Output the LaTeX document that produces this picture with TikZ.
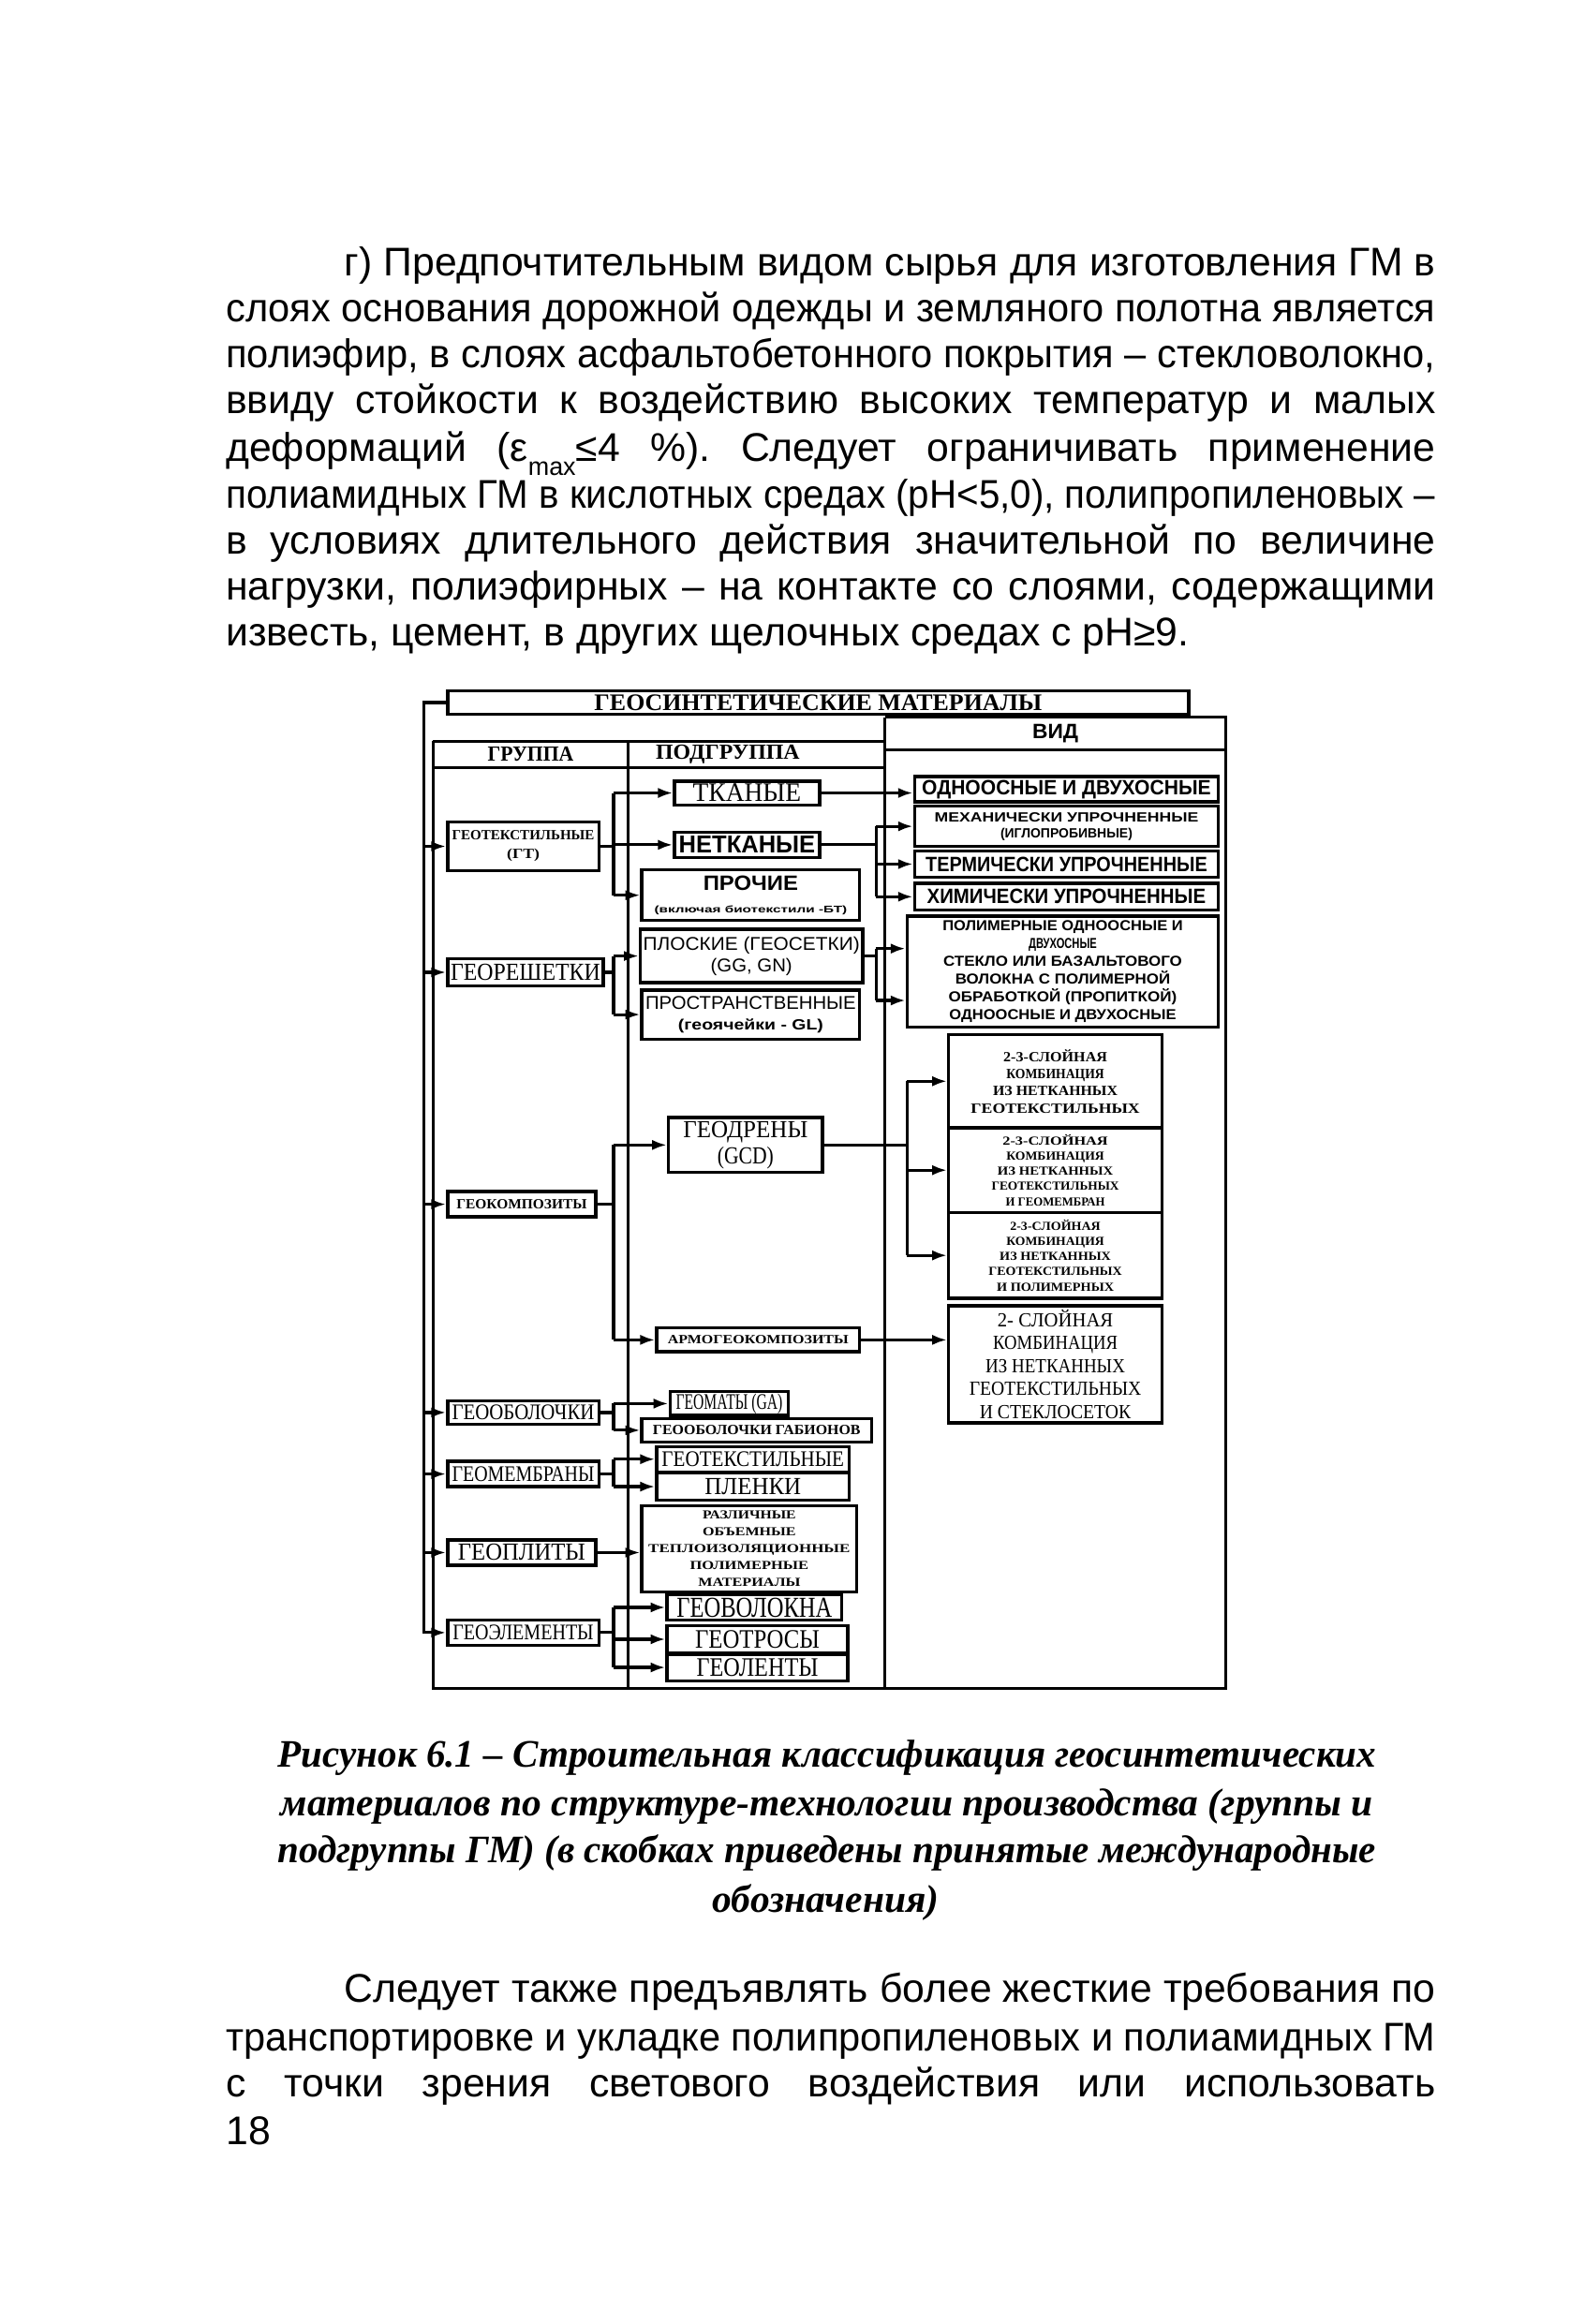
\documentclass[tikz,border=0pt]{standalone}
\usepackage{fontspec}
\usepackage{graphicx}
\setmainfont{Liberation Sans}
\newfontfamily\ser{Liberation Serif}
\newfontfamily\sns{Liberation Sans}
\usetikzlibrary{arrows.meta}
\newlength\pxu \setlength\pxu{0.4pt}
\newlength\jw
\newcommand\fw[2]{\resizebox{#1\pxu}{\height}{#2}}
\newcommand\Fs[2]{\fontsize{#1pt}{#2pt}\selectfont}
\newcommand\jline[2]{\frenchspacing\setlength\jw{#1\pxu}\setbox0=\hbox{#2}\ifdim\wd0>\jw\resizebox{\jw}{\height}{#2}\else\hbox to\jw{\spaceskip=0.28em plus 4em\relax#2}\fi}
\tikzset{
 bx/.style 2 args={draw, line width=0.85pt, inner sep=0pt, align=center, minimum width=#1*0.4pt, minimum height=#2*0.4pt},
 arr/.style={line width=0.8pt, -{Latex[length=4pt,width=2.8pt]}},
 ln/.style={line width=0.8pt},
 fr/.style={line width=0.75pt},
 txt/.style={inner sep=0pt, anchor=base west},
 ctxt/.style={inner sep=0pt, anchor=base},
 lbl/.style={inner sep=0pt}
}
\begin{document}
\begin{tikzpicture}[x=0.4pt,y=-0.4pt]
\fill[white] (0,0) rectangle (1059,1568);
\useasboundingbox (0,0) rectangle (1059,1568);

% ---------- body text ----------
\begin{scope}[every node/.append style={font=\Fs{10.8}{12}}]
\node[txt] (a1) at (232,186) {\jline{736}{г) Предпочтительным видом сырья для изготовления ГМ в}};
\node[txt] (a2) at (152,217) {\jline{816}{слоях основания дорожной одежды и земляного полотна является}};
\node[txt] (a3) at (152,248) {\jline{816}{полиэфир, в слоях асфальтобетонного покрытия – стекловолокно,}};
\node[txt] (a4) at (152,279) {\jline{816}{ввиду стойкости к воздействию высоких температур и малых}};
\node[txt] (a5) at (152,311) {\jline{816}{деформаций (ε\raisebox{-0.35em}{\fontsize{6.8pt}{7pt}\selectfont max}≤4 \%). Следует ограничивать применение}};
\node[txt] (a6) at (152,343) {\jline{816}{полиамидных ГМ в кислотных средах (pH<5,0), полипропиленовых –}};
\node[txt] (a7) at (152,374) {\jline{816}{в условиях длительного действия значительной по величине}};
\node[txt] (a8) at (152,405) {\jline{816}{нагрузки, полиэфирных – на контакте со слоями, содержащими}};
\node[txt] (a9) at (152,436) {известь, цемент, в других щелочных средах с pH≥9.};

\node[txt] (b1) at (232,1351) {\jline{736}{Следует также предъявлять более жесткие требования по}};
\node[txt] (b2) at (152,1384) {\jline{816}{транспортировке и укладке полипропиленовых и полиамидных ГМ}};
\node[txt] (b3) at (152,1415) {\jline{816}{с точки зрения светового воздействия или использовать}};
\node[txt] (b4) at (152,1447) {18};
\end{scope}

% ---------- caption ----------
\begin{scope}[every node/.append style={font=\ser\bfseries\itshape\Fs{10.5}{12}}]
\node[txt] (c1) at (187,1192) {\jline{741}{Рисунок 6.1 – Строительная классификация геосинтетических}};
\node[txt] (c2) at (189,1225) {\jline{737}{материалов по структуре-технологии производства (группы и}};
\node[txt] (c3) at (187,1257) {\jline{741}{подгруппы ГМ) (в скобках приведены принятые международные}};
\node[ctxt] (c4) at (557,1290) {обозначения)};
\end{scope}

% ---------- frame ----------
\draw[fr] (292,500) -- (597,500);
\draw[fr] (292,518) -- (597,518);
\draw[fr] (597,484) -- (827,484) -- (827,1139) -- (292,1139) -- (292,500);
\draw[fr] (424,500) -- (424,1139);
\draw[fr] (597,484) -- (597,1139);
\draw[fr] (597,506) -- (827,506);

% ---------- headers ----------
\node[bx={500}{16}, font=\ser\bfseries\Fs{6.4}{8}] (tt) at (552,474) {\fw{302}{ГЕОСИНТЕТИЧЕСКИЕ МАТЕРИАЛЫ}};
\node[lbl, font=\sns\bfseries\Fs{5.6}{7}] (hvid) at (712,495) {\fw{31}{ВИД}};
\node[lbl, font=\ser\bfseries\Fs{5.8}{7}] (hgr) at (358,509) {\fw{58}{ГРУППА}};
\node[lbl, font=\ser\bfseries\Fs{5.8}{7}] (hpgr) at (491,509) {\fw{97}{ПОДГРУППА}};

% ---------- groups ----------
\node[bx={102}{33}, font=\ser\bfseries\Fs{3.8}{5}] (g1) at (353,571) {\fw{96}{ГЕОТЕКСТИЛЬНЫЕ}\\\fw{22}{(ГТ)}};
\node[bx={105}{18}, font=\ser\Fs{6.6}{8}] (g2) at (354.5,656) {\fw{101}{ГЕОРЕШЕТКИ}};
\node[bx={100}{17}, font=\ser\bfseries\Fs{3.8}{5}] (g3) at (352,812.5) {\fw{88}{ГЕОКОМПОЗИТЫ}};
\node[bx={102}{16}, font=\ser\Fs{6}{7}] (g4) at (353,953) {\fw{96}{ГЕООБОЛОЧКИ}};
\node[bx={102}{17}, font=\ser\Fs{6}{7}] (g5) at (353,994.5) {\fw{96}{ГЕОМЕМБРАНЫ}};
\node[bx={100}{17}, font=\ser\Fs{6.6}{8}] (g6) at (352,1047.5) {\fw{86}{ГЕОПЛИТЫ}};
\node[bx={102}{17}, font=\ser\Fs{6}{7}] (g7) at (353,1101.5) {\fw{95}{ГЕОЭЛЕМЕНТЫ}};

% ---------- subgroups ----------
\node[bx={98}{16}, font=\ser\Fs{7.2}{8}] (s1) at (504,535) {\fw{73}{ТКАНЫЕ}};
\node[bx={98}{17}, font=\sns\bfseries\Fs{6.6}{8}] (s2) at (504,570) {\fw{92}{НЕТКАНЫЕ}};
\node[bx={147}{34}, font=\sns\bfseries\Fs{5.6}{5.9}] (s3) at (506.5,604) {\fw{64}{ПРОЧИЕ}\\{\fontsize{2.6pt}{5.9pt}\selectfont\fw{130}{(включая биотекстили -БТ)}}};
\node[bx={150}{36}, font=\sns\Fs{5}{5.9}] (s4) at (507,645) {\fw{146}{ПЛОСКИЕ (ГЕОСЕТКИ)}\\\fw{55}{(GG, GN)}};
\node[bx={147}{33}, font=\sns\Fs{5}{5.6}] (s5) at (506.5,684.5) {\fw{142}{ПРОСТРАНСТВЕННЫЕ}\\{\bfseries\fontsize{4pt}{5.6pt}\selectfont\fw{98}{(геоячейки - GL)}}};
\node[bx={104}{37}, font=\ser\Fs{6.6}{7.1}] (s6) at (503,772.5) {\fw{84}{ГЕОДРЕНЫ}\\\fw{38}{(GCD)}};
\node[bx={137}{16}, font=\ser\bfseries\Fs{3.4}{5}] (s7) at (511.5,904) {\fw{122}{АРМОГЕОКОМПОЗИТЫ}};
\node[bx={80}{16}, font=\ser\Fs{6}{7}] (s8) at (492,947) {\fw{72}{ГЕОМАТЫ (GA)}};
\node[bx={155}{16}, font=\ser\bfseries\Fs{3.8}{5}] (s9) at (510.5,965) {\fw{140}{ГЕООБОЛОЧКИ ГАБИОНОВ}};
\node[bx={130}{17}, font=\ser\Fs{6}{7}] (s10) at (508,984.5) {\fw{123}{ГЕОТЕКСТИЛЬНЫЕ}};
\node[bx={130}{18}, font=\ser\Fs{6.6}{8}] (s11) at (508,1003) {\fw{65}{ПЛЕНКИ}};
\node[bx={145}{58}, font=\ser\bfseries\Fs{3.3}{4.55}] (s12) at (505.5,1045) {\fw{63}{РАЗЛИЧНЫЕ}\\\fw{63}{ОБЪЕМНЫЕ}\\\fw{136}{ТЕПЛОИЗОЛЯЦИОННЫЕ}\\\fw{80}{ПОЛИМЕРНЫЕ}\\\fw{69}{МАТЕРИАЛЫ}};
\node[bx={118}{17}, font=\ser\Fs{7.8}{9}] (s13) at (509,1084.5) {\fw{105}{ГЕОВОЛОКНА}};
\node[bx={122}{18}, font=\ser\Fs{7.2}{8}] (s14) at (511,1106) {\fw{84}{ГЕОТРОСЫ}};
\node[bx={122}{18}, font=\ser\Fs{7.2}{8}] (s15) at (511,1125) {\fw{82}{ГЕОЛЕНТЫ}};

% ---------- kinds ----------
\node[bx={205}{17}, font=\sns\bfseries\Fs{5.6}{7}] (v1) at (719.5,532.5) {\fw{195}{ОДНООСНЫЕ И ДВУХОСНЫЕ}};
\node[bx={205}{27}, font=\sns\bfseries\Fs{3.6}{4.3}] (v2) at (719.5,557.5) {\fw{178}{МЕХАНИЧЕСКИ УПРОЧНЕННЫЕ}\\\fw{89}{(ИГЛОПРОБИВНЫЕ)}};
\node[bx={205}{18}, font=\sns\bfseries\Fs{5.6}{7}] (v3) at (719.5,583) {\fw{190}{ТЕРМИЧЕСКИ УПРОЧНЕННЫЕ}};
\node[bx={205}{18}, font=\sns\bfseries\Fs{5.6}{7}] (v4) at (719.5,605) {\fw{188}{ХИМИЧЕСКИ УПРОЧНЕННЫЕ}};
\node[bx={210}{75}, font=\sns\bfseries\Fs{3.9}{4.8}] (v5) at (717,655.5) {\fw{162}{ПОЛИМЕРНЫЕ ОДНООСНЫЕ И}\\\fw{46}{ДВУХОСНЫЕ}\\\fw{161}{СТЕКЛО ИЛИ БАЗАЛЬТОВОГО}\\\fw{145}{ВОЛОКНА С ПОЛИМЕРНОЙ}\\\fw{154}{ОБРАБОТКОЙ (ПРОПИТКОЙ)}\\\fw{153}{ОДНООСНЫЕ И ДВУХОСНЫЕ}};
\node[bx={144}{63}, font=\ser\bfseries\Fs{3.8}{4.65}] (v6) at (712,729.5) {\fw{70}{2-3-СЛОЙНАЯ}\\\fw{66}{КОМБИНАЦИЯ}\\\fw{84}{ИЗ НЕТКАННЫХ}\\\fw{114}{ГЕОТЕКСТИЛЬНЫХ}};
\node[bx={144}{57}, font=\ser\bfseries\Fs{3.3}{4.1}] (v7) at (712,789.5) {\fw{71}{2-3-СЛОЙНАЯ}\\\fw{66}{КОМБИНАЦИЯ}\\\fw{78}{ИЗ НЕТКАННЫХ}\\\fw{86}{ГЕОТЕКСТИЛЬНЫХ}\\\fw{67}{И ГЕОМЕМБРАН}};
\node[bx={144}{58}, font=\ser\bfseries\Fs{3.3}{4.1}] (v8) at (712,847) {\fw{61}{2-3-СЛОЙНАЯ}\\\fw{66}{КОМБИНАЦИЯ}\\\fw{75}{ИЗ НЕТКАННЫХ}\\\fw{90}{ГЕОТЕКСТИЛЬНЫХ}\\\fw{79}{И ПОЛИМЕРНЫХ}};
\node[bx={144}{79}, font=\ser\Fs{5.4}{6.2}] (v9) at (712,920.5) {\fw{78}{2- СЛОЙНАЯ}\\\fw{84}{КОМБИНАЦИЯ}\\\fw{94}{ИЗ НЕТКАННЫХ}\\\fw{116}{ГЕОТЕКСТИЛЬНЫХ}\\\fw{102}{И СТЕКЛОСЕТОК}};

% ---------- junction coordinates ----------
\coordinate (oL) at (286,0);
\coordinate (jA) at (414,0);
\coordinate (jB) at (591,0);
\coordinate (jC) at (612,0);
\coordinate (p1) at (591,640);
\coordinate (p2) at (591,675);

% ---------- outer connector ----------
\draw[arr] (tt.west) -| (oL |- g7.west) -- (g7.west);
\foreach \g in {g1,g2,g3,g4,g5,g6} \draw[arr] (oL |- \g.west) -- (\g.west);

% ---------- group -> subgroup ----------
\draw[ln] (g1.east) -- (jA |- g1.east);
\draw[ln] (jA |- s1.west) -- (jA |- s3.west);
\foreach \s in {s1,s2,s3} \draw[arr] (jA |- \s.west) -- (\s.west);

\draw[ln] (g2.east) -- (jA |- g2.east);
\draw[ln] (jA |- s4.west) -- (jA |- s5.west);
\foreach \s in {s4,s5} \draw[arr] (jA |- \s.west) -- (\s.west);

\draw[ln] (g3.east) -- (jA |- g3.east);
\draw[ln] (jA |- s6.west) -- (jA |- s7.west);
\foreach \s in {s6,s7} \draw[arr] (jA |- \s.west) -- (\s.west);

\draw[ln] (g4.east) -- (jA |- g4.east);
\draw[ln] (jA |- s8.west) -- (jA |- s9.west);
\foreach \s in {s8,s9} \draw[arr] (jA |- \s.west) -- (\s.west);

\draw[ln] (g5.east) -- (jA |- g5.east);
\draw[ln] (jA |- s10.west) -- (jA |- s11.west);
\foreach \s in {s10,s11} \draw[arr] (jA |- \s.west) -- (\s.west);

\draw[arr] (g6.east) -- (g6.east -| s12.west);

\draw[ln] (g7.east) -- (jA |- g7.east);
\draw[ln] (jA |- s13.west) -- (jA |- s15.west);
\foreach \s in {s13,s14,s15} \draw[arr] (jA |- \s.west) -- (\s.west);

% ---------- subgroup -> kind ----------
\draw[arr] (s1.east) -- (s1.east -| v1.west);

\draw[ln] (s2.east) -- (jB |- s2.east);
\draw[ln] (jB |- v2.west) -- (jB |- v4.west);
\foreach \v in {v2,v3,v4} \draw[arr] (jB |- \v.west) -- (\v.west);

\draw[ln] (s4.east) -- (s4.east -| jB);
\draw[ln] (p1) -- (p2);
\draw[arr] (p1) -- (p1 -| v5.west);
\draw[arr] (p2) -- (p2 -| v5.west);

\draw[ln] (s6.east) -- (jC |- s6.east);
\draw[ln] (jC |- v6.west) -- (jC |- v8.west);
\foreach \v in {v6,v7,v8} \draw[arr] (jC |- \v.west) -- (\v.west);

\draw[arr] (s7.east) -- (s7.east -| v9.west);
\end{tikzpicture}
\end{document}
